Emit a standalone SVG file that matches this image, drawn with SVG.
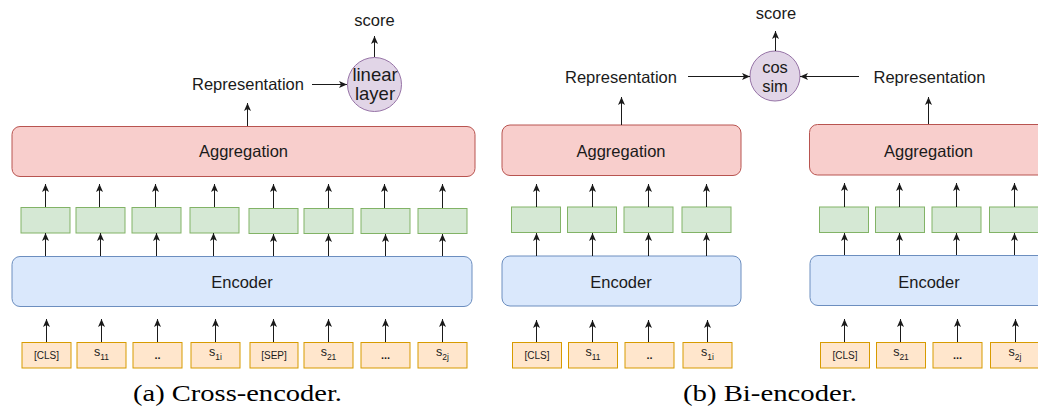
<svg xmlns="http://www.w3.org/2000/svg" width="1038" height="412" viewBox="0 0 1038 412">
<style>
text{font-family:"Liberation Sans",Arial,sans-serif;fill:#1a1a1a}
.lbl{font-size:16.5px;text-anchor:middle}
.big{font-size:18.5px;text-anchor:middle}
.tok{font-size:10px;text-anchor:middle}
.s{font-size:12.5px}
.sub{font-size:8.5px}
.dots{font-size:11px;font-weight:bold;text-anchor:middle}
.cap{font-family:"Liberation Serif","Times New Roman",serif;font-size:24px;fill:#000}
.agg{fill:#f8cecc;stroke:#b85450;stroke-width:1}
.enc{fill:#dae8fc;stroke:#6c8ebf;stroke-width:1}
.emb{fill:#d5e8d4;stroke:#82b366;stroke-width:1}
.tk{fill:#ffe6cc;stroke:#d79b00;stroke-width:1}
.op{fill:#e1d5e7;stroke:#9673a6;stroke-width:1}
.ar{stroke:#1a1a1a;stroke-width:1;fill:none;marker-end:url(#ah)}
</style>
<defs>
<marker id="ah" markerUnits="userSpaceOnUse" markerWidth="9" markerHeight="8" refX="8" refY="3.5" orient="auto">
<path d="M0,0 L8,3.5 L0,7 L2,3.5 z" fill="#1a1a1a"/>
</marker>
</defs>

<!-- ===== (a) Cross-encoder ===== -->
<g id="a-aggregation"><rect class="agg" x="12" y="126.5" width="463" height="50" rx="8"/><text class="lbl" x="243.5" y="157">Aggregation</text></g>
<g id="a-encoder"><rect class="enc" x="12" y="256.5" width="460" height="50" rx="8"/><text class="lbl" x="242" y="288">Encoder</text></g>
<g id="a-emb1"><rect class="emb" x="21" y="207.5" width="49" height="25.5"/></g>
<g id="a-emb2"><rect class="emb" x="76" y="207.5" width="49" height="25.5"/></g>
<g id="a-emb3"><rect class="emb" x="132" y="207.5" width="49" height="25.5"/></g>
<g id="a-emb4"><rect class="emb" x="190" y="207.5" width="49" height="25.5"/></g>
<g id="a-emb5"><rect class="emb" x="249" y="208.5" width="49" height="25"/></g>
<g id="a-emb6"><rect class="emb" x="304" y="208.5" width="49" height="25"/></g>
<g id="a-emb7"><rect class="emb" x="361" y="208.5" width="49" height="25"/></g>
<g id="a-emb8"><rect class="emb" x="418" y="208.5" width="49" height="25"/></g>
<g id="a-tok1"><rect class="tk" x="22" y="342.5" width="49" height="25.5"/><text class="tok" x="46.5" y="358.5">[CLS]</text></g>
<g id="a-tok2"><rect class="tk" x="77" y="342.5" width="49" height="25.5"/><text x="101.5" y="356" text-anchor="middle"><tspan class="s">s</tspan><tspan class="sub" dy="4">11</tspan></text></g>
<g id="a-tok3"><rect class="tk" x="133" y="342.5" width="49" height="25.5"/><text class="dots" x="157.5" y="359">..</text></g>
<g id="a-tok4"><rect class="tk" x="191" y="342.5" width="49" height="25.5"/><text x="215.5" y="356" text-anchor="middle"><tspan class="s">s</tspan><tspan class="sub" dy="4">1i</tspan></text></g>
<g id="a-tok5"><rect class="tk" x="250" y="342.5" width="48" height="25.5"/><text class="tok" x="274" y="358.5">[SEP]</text></g>
<g id="a-tok6"><rect class="tk" x="304" y="342.5" width="49" height="25.5"/><text x="328.5" y="356" text-anchor="middle"><tspan class="s">s</tspan><tspan class="sub" dy="4">21</tspan></text></g>
<g id="a-tok7"><rect class="tk" x="361" y="342.5" width="49" height="25.5"/><text class="dots" x="385.5" y="359">...</text></g>
<g id="a-tok8"><rect class="tk" x="418" y="342.5" width="49" height="25.5"/><text x="442.5" y="356" text-anchor="middle"><tspan class="s">s</tspan><tspan class="sub" dy="4">2j</tspan></text></g>
<g id="a-representation"><text class="lbl" x="248" y="90">Representation</text></g>
<g id="a-linear"><circle class="op" cx="374.5" cy="84.5" r="27"/><text class="big" x="375" y="81">linear</text><text class="big" x="375" y="100">layer</text></g>
<g id="a-score"><text class="lbl" x="374.5" y="25.5">score</text></g>
<text class="cap" x="133" y="401" textLength="209" lengthAdjust="spacingAndGlyphs">(a) Cross-encoder.</text>

<!-- ===== (b) Bi-encoder ===== -->
<g id="b-aggregation1"><rect class="agg" x="502" y="125" width="239" height="50.5" rx="8"/><text class="lbl" x="621" y="157">Aggregation</text></g>
<g id="b-encoder1"><rect class="enc" x="502" y="256" width="239" height="50" rx="8"/><text class="lbl" x="621" y="288">Encoder</text></g>
<g id="b-emb1"><rect class="emb" x="511.5" y="207" width="49" height="25.5"/></g>
<g id="b-emb2"><rect class="emb" x="567.5" y="207" width="49" height="25.5"/></g>
<g id="b-emb3"><rect class="emb" x="624" y="207" width="49" height="25.5"/></g>
<g id="b-emb4"><rect class="emb" x="682" y="207" width="49" height="25.5"/></g>
<g id="b-tok1"><rect class="tk" x="512.5" y="342.5" width="49" height="25.5"/><text class="tok" x="537" y="358.5">[CLS]</text></g>
<g id="b-tok2"><rect class="tk" x="568.5" y="342.5" width="49" height="25.5"/><text x="593" y="356" text-anchor="middle"><tspan class="s">s</tspan><tspan class="sub" dy="4">11</tspan></text></g>
<g id="b-tok3"><rect class="tk" x="625" y="342.5" width="49" height="25.5"/><text class="dots" x="649.5" y="359">..</text></g>
<g id="b-tok4"><rect class="tk" x="683" y="342.5" width="49" height="25.5"/><text x="707.5" y="356" text-anchor="middle"><tspan class="s">s</tspan><tspan class="sub" dy="4">1i</tspan></text></g>
<g id="b-representation1"><text class="lbl" x="621" y="83">Representation</text></g>

<g id="b-aggregation2"><rect class="agg" x="809.5" y="124.5" width="239" height="50.5" rx="8"/><text class="lbl" x="928.5" y="157">Aggregation</text></g>
<g id="b-encoder2"><rect class="enc" x="810" y="255.5" width="239" height="50" rx="8"/><text class="lbl" x="929" y="288">Encoder</text></g>
<g id="b-emb5"><rect class="emb" x="819.5" y="207" width="49" height="25.5"/></g>
<g id="b-emb6"><rect class="emb" x="875.5" y="207" width="49" height="25.5"/></g>
<g id="b-emb7"><rect class="emb" x="932" y="207" width="49" height="25.5"/></g>
<g id="b-emb8"><rect class="emb" x="989.5" y="207" width="49" height="25.5"/></g>
<g id="b-tok5"><rect class="tk" x="820.5" y="342.5" width="49" height="25.5"/><text class="tok" x="845" y="358.5">[CLS]</text></g>
<g id="b-tok6"><rect class="tk" x="876.5" y="342.5" width="49" height="25.5"/><text x="901" y="356" text-anchor="middle"><tspan class="s">s</tspan><tspan class="sub" dy="4">21</tspan></text></g>
<g id="b-tok7"><rect class="tk" x="933" y="342.5" width="49" height="25.5"/><text class="dots" x="957.5" y="359">...</text></g>
<g id="b-tok8"><rect class="tk" x="990.5" y="342.5" width="49" height="25.5"/><text x="1015" y="356" text-anchor="middle"><tspan class="s">s</tspan><tspan class="sub" dy="4">2j</tspan></text></g>
<g id="b-representation2"><text class="lbl" x="929.5" y="83">Representation</text></g>

<g id="b-cossim"><circle class="op" cx="775" cy="76" r="25"/><text class="lbl" x="775" y="72.5">cos</text><text class="lbl" x="775" y="91.5">sim</text></g>
<g id="b-score"><text class="lbl" x="776" y="19">score</text></g>
<text class="cap" x="683" y="401" textLength="174" lengthAdjust="spacingAndGlyphs">(b) Bi-encoder.</text>

<!-- ===== connectors ===== -->
<g id="connectors">
<!-- (a) token -> encoder -->
<path class="ar" d="M46.5,342 V319"/>
<path class="ar" d="M101.5,342 V319"/>
<path class="ar" d="M157.5,342 V319"/>
<path class="ar" d="M215.5,342 V319"/>
<path class="ar" d="M273.5,342 V319"/>
<path class="ar" d="M328.5,342 V319"/>
<path class="ar" d="M385.5,342 V319"/>
<path class="ar" d="M442.5,342 V319"/>
<!-- (a) encoder -> emb -->
<path class="ar" d="M45.5,256 V233"/>
<path class="ar" d="M100.5,256 V233"/>
<path class="ar" d="M156.5,256 V233"/>
<path class="ar" d="M213.5,256 V233"/>
<path class="ar" d="M273.5,256 V234"/>
<path class="ar" d="M328.5,256 V234"/>
<path class="ar" d="M385.5,256 V234"/>
<path class="ar" d="M442.5,256 V234"/>
<!-- (a) emb -> aggregation -->
<path class="ar" d="M45.5,207 V184"/>
<path class="ar" d="M99.5,207 V184"/>
<path class="ar" d="M155.5,207 V184"/>
<path class="ar" d="M214.5,207 V184"/>
<path class="ar" d="M273.5,208 V184"/>
<path class="ar" d="M328.5,208 V184"/>
<path class="ar" d="M384.5,208 V184"/>
<path class="ar" d="M442.5,208 V184"/>
<!-- (a) top -->
<path class="ar" d="M247.5,126 V103"/>
<path class="ar" d="M312,84.5 H347"/>
<path class="ar" d="M374.5,57 V36"/>

<!-- (b1) -->
<path class="ar" d="M536.5,342 V320"/>
<path class="ar" d="M592.5,342 V320"/>
<path class="ar" d="M648.5,342 V320"/>
<path class="ar" d="M707.5,342 V320"/>
<path class="ar" d="M536.5,256 V233"/>
<path class="ar" d="M592.5,256 V233"/>
<path class="ar" d="M648.5,256 V233"/>
<path class="ar" d="M706.5,256 V233"/>
<path class="ar" d="M536.5,207 V184"/>
<path class="ar" d="M592.5,207 V184"/>
<path class="ar" d="M648.5,207 V184"/>
<path class="ar" d="M706.5,207 V184"/>
<path class="ar" d="M621.5,125 V97"/>
<!-- (b2) -->
<path class="ar" d="M844.5,342 V319"/>
<path class="ar" d="M900.5,342 V319"/>
<path class="ar" d="M957.5,342 V319"/>
<path class="ar" d="M1015.5,342 V319"/>
<path class="ar" d="M844.5,255 V233"/>
<path class="ar" d="M899.5,255 V233"/>
<path class="ar" d="M956.5,255 V233"/>
<path class="ar" d="M1014.5,255 V233"/>
<path class="ar" d="M844.5,207 V183"/>
<path class="ar" d="M899.5,207 V183"/>
<path class="ar" d="M956.5,207 V183"/>
<path class="ar" d="M1014.5,207 V183"/>
<path class="ar" d="M928.5,124 V97"/>
<!-- (b) top -->
<path class="ar" d="M688,76.5 H750"/>
<path class="ar" d="M859,76.5 H800"/>
<path class="ar" d="M775.5,51 V31"/>
</g>
</svg>
